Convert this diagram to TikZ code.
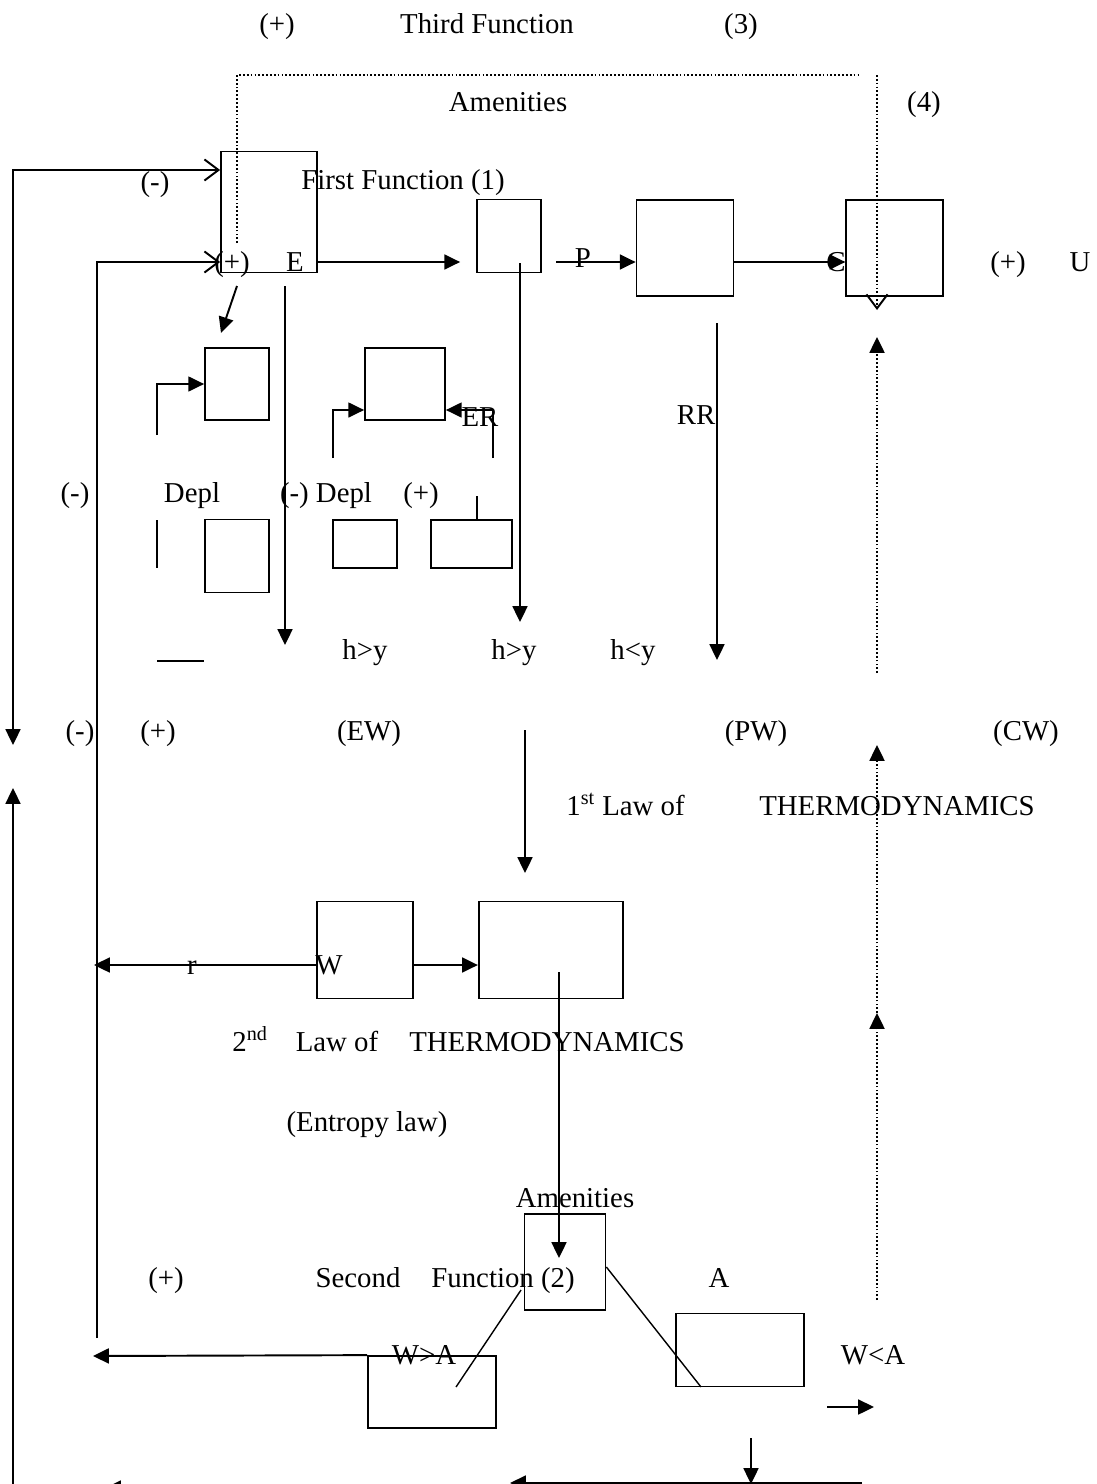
\documentclass[tikz,border=0pt]{standalone}
\usepackage{fontspec}
\setmainfont{Liberation Serif}
\usetikzlibrary{arrows.meta,positioning}

\begin{document}
\begin{tikzpicture}[x=0.02cm,y=-0.02cm,
  every node/.style={inner sep=0pt,font=\fontsize{16.4}{19}\selectfont,text height=1.1em,text depth=0pt},
  box/.style 2 args={draw,line width=1pt,minimum width=#1*0.02cm,minimum height=#2*0.02cm},
  arr/.style={line width=1.1pt,-{Triangle[length=9pt,width=8.5pt]}},
  barb/.style={line width=1.1pt,-{Straight Barb[length=8pt,width=12pt]}},
  thin/.style={line width=0.8pt},
  dots/.style={line width=1.2pt,dash pattern=on 1pt off 1.2pt}]
      \fill[white] (0,0) rectangle (1096,1484);
      \useasboundingbox (0,0) rectangle (1096,1484);
      % boxes
      \node[box={96}{121}] (e) at (269,212) {};
      \node[box={64}{73}] (p) at (509,236) {};
      \node[box={97}{96}] (pr) at (685,248) {};
      \node[box={97}{96},right=2.22cm of pr] (c) {};
      \node[box={64}{72}] (da) at (237,384) {};
      \node[box={80}{72}] (db) at (405,384) {};
      \node[box={64}{73}] (la) at (237,556) {};
      \node[box={64}{48}] (lb) at (365,544) {};
      \node[box={81}{48},right=0.64cm of lb] (lc) {};
      \node[box={96}{97}] (w) at (365,950) {};
      \node[box={144}{97},right=1.28cm of w] (r) {};
      \node[box={81}{96}] (f) at (565,1262) {};
      \node[box={128}{73}] (a) at (740,1350) {};
      \node[box={128}{72}] (wa) at (432,1392) {};
      % labels
      \node (plthree) at (277,24) {(+)};
      \node (third) at (487,24) {Third Function};
      \node (nthree) at (741,24) {(3)};
      \node (amtop) at (508,102) {Amenities};
      \node (nfour) at (924,102) {(4)};
      \node (mione) at (155,182) {(-)};
      \node (first) at (403,180) {First Function (1)};
      \node (ple) at (232,262) {(+)};
      \node (labe) at (295,262) {E};
      \node (labp) at (583,258) {P};
      \node (labc) at (836,262) {C};
      \node (plu) at (1008,262) {(+)};
      \node (labu) at (1080,262) {U};
      \node (laber) at (480,417) {ER};
      \node (labrr) at (696,415) {RR};
      \node (midp) at (75,493) {(-)};
      \node (deplone) at (192,493) {Depl};
      \node (depltwo) at (326,493) {(-) Depl};
      \node (pldepl) at (421,493) {(+)};
      \node (hone) at (365,650) {h>y};
      \node (htwo) at (514,650) {h>y};
      \node (hthree) at (633,650) {h<y};
      \node (miw) at (80,731) {(-)};
      \node (plw) at (158,731) {(+)};
      \node (ew) at (369,731) {(EW)};
      \node (pw) at (756,731) {(PW)};
      \node (cw) at (1026,731) {(CW)};
      \node[anchor=west] (lawone) at (566,806) {1\textsuperscript{st} Law of};
      \node (thone) at (897,806) {THERMODYNAMICS};
      \node (labr) at (192,965) {r};
      \node (labw) at (329,965) {W};
      \node[anchor=west] (nd) at (232,1042) {2\textsuperscript{nd}};
      \node (lawtwo) at (337,1042) {Law of};
      \node (thtwo) at (547,1042) {THERMODYNAMICS};
      \node (entropy) at (367,1122) {(Entropy law)};
      \node (ambot) at (575,1198) {Amenities};
      \node (plsec) at (166,1278) {(+)};
      \node (second) at (358,1278) {Second};
      \node (fntwo) at (503,1278) {Function (2)};
      \node (laba) at (719,1278) {A};
      \node (wga) at (424,1355) {W>A};
      \node (wla) at (873,1355) {W<A};
      % free ends
      \coordinate (outA) at (13,170);
      \coordinate (outAd) at (13,745);
      \coordinate (outB) at (13,1490);
      \coordinate (outBu) at (13,788);
      \coordinate (inA) at (97,262);
      \coordinate (inAd) at (97,1338);
      \coordinate (pst) at (556,262);
      \coordinate (pdn) at (520,263);
      \coordinate (edg) at (237,286);
      \coordinate (edgt) at (221,333);
      \coordinate (edn) at (285,286);
      \coordinate (ea) at (157,435);
      \coordinate (eb) at (333,458);
      \coordinate (er) at (493,458);
      \coordinate (tk) at (477,496);
      \coordinate (sv) at (157,520);
      \coordinate (sh) at (157,661);
      \coordinate (rra) at (717,323);
      \coordinate (dl) at (237,243);
      \coordinate (dr) at (861,75);
      \coordinate (dc) at (877,75);
      \coordinate (dct) at (877,310);
      \coordinate (dup) at (877,673);
      \coordinate (dupt) at (877,337);
      \coordinate (dmid) at (877,1013);
      \coordinate (dmidt) at (877,745);
      \coordinate (dbot) at (877,1300);
      \coordinate (ewa) at (525,730);
      \coordinate (rw) at (94,965);
      \coordinate (rin) at (559,972);
      \coordinate (adg) at (701,1387);
      \coordinate (fdg) at (521,1290);
      \coordinate (wdg) at (456,1387);
      \coordinate (wal) at (93,1356);
      \coordinate (sma) at (827,1407);
      \coordinate (vdn) at (751,1438);
      \coordinate (bra) at (862,1483);
      \coordinate (brt) at (510,1483);
      \coordinate (bla) at (505,1488);
      \coordinate (blt) at (105,1488);
      % connectors
      \draw[line width=1.1pt,{Straight Barb[length=8pt,width=12pt]}-{Triangle[length=9pt,width=8.5pt]}] (e.west |- outA) -- (outA) -- (outAd);
      \draw[arr] (outB) -- (outBu);
      \draw[barb] (inAd) -- (inA) -- (e.west |- inA);
      \draw[arr,shorten >=0.32cm] (e.east |- inA) -- (p.west |- inA);
      \draw[arr] (pst) -- (pr.west |- pst);
      \draw[arr] (pr.east |- inA) -- (c.west |- inA);
      \draw[arr] (pdn) -- (pdn |- 0,622);
      \draw[arr] (edg) -- (edgt);
      \draw[arr] (edn) -- (edn |- 0,645);
      \draw[arr,line width=1pt] (ea) |- (da);
      \draw[arr,line width=1pt] (eb) |- (db.west |- 0,410);
      \draw[arr,line width=1pt] (er) |- (db.east |- 0,410);
      \draw[line width=1pt] (tk) -- (tk |- lc.north);
      \draw[line width=1pt] (sv) -- (sv |- 0,568);
      \draw[line width=1pt] (sh) -- (sh -| la.west);
      \draw[arr] (rra) -- (rra |- 0,660);
      \draw[dots] (dl) |- (dr);
      \draw[dots,-{Straight Barb[length=8pt,width=12pt,line width=1.1pt]}] (dc) -- (dct);
      \draw[dots,-{Triangle[length=9pt,width=8.5pt]}] (dup) -- (dupt);
      \draw[dots,-{Triangle[length=9pt,width=8.5pt]}] (dmid) -- (dmidt);
      \draw[dots,-{Triangle[length=9pt,width=8.5pt]}] (dbot) -- (dmid);
      \draw[arr] (ewa) -- (ewa |- 0,873);
      \draw[arr] (w.west |- rw) -- (rw);
      \draw[arr] (w.east |- rw) -- (r.west |- rw);
      \draw[arr] (rin) -- (rin |- 0,1258);
      \draw[thin] (f.east |- 0,1267) -- (adg);
      \draw[thin] (fdg) -- (wdg);
      \draw[arr] (wa.north west) -- (wal);
      \draw[arr] (sma) -- ++(47,0);
      \draw[arr] (vdn) -- (vdn |- 0,1484);
      \draw[arr] (bra) -- (brt);
      \draw[arr] (bla) -- (blt);
    \end{tikzpicture}
\end{document}
